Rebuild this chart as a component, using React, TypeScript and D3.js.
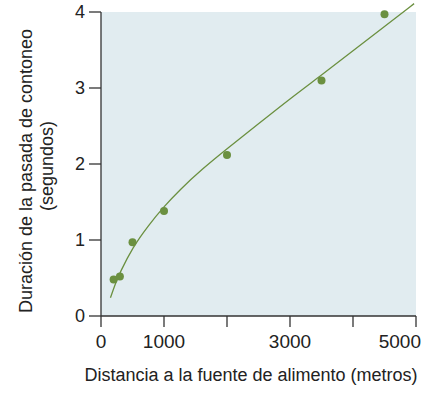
import React from "react";
import * as d3 from "d3";

const distances = [200, 300, 500, 1000, 2000, 3500, 4500];
const durations = [0.48, 0.52, 0.97, 1.38, 2.12, 3.1, 3.97];

const curveX = [150, 225, 300, 500, 750, 1000, 1250, 1600, 2000, 2500, 3000, 3500, 4000, 4500, 4970];
const curveY = [0.24, 0.42, 0.57, 0.9, 1.19, 1.44, 1.66, 1.93, 2.2, 2.53, 2.86, 3.17, 3.49, 3.81, 4.11];

const xTicks = [0, 1000, 2000, 3000, 4000, 5000];
const xTickLabels = ["0", "1000", "", "3000", "", "5000"];
const yTicks = [0, 1, 2, 3, 4];

const xTitle = "Distancia a la fuente de alimento (metros)";
const yTitle1 = "Duración de la pasada de contoneo";
const yTitle2 = "(segundos)";

export default function App() {
  const W = 433, H = 393;
  const x = d3.scaleLinear().domain([0, 5000]).range([101, 416]);
  const y = d3.scaleLinear().domain([0, 4]).range([316, 12]);
  const font = "'Liberation Sans', Arial, Helvetica, sans-serif";
  const green = "#6b9040";
  const axisColor = "#333";

  const line = d3
    .line<number>()
    .x((_, i) => x(curveX[i]))
    .y((d) => y(d))
    .curve(d3.curveBasis);

  return (
    <svg width={W} height={H} style={{ position: "absolute", left: 0, top: 0 }} fontFamily={font}>
      <rect x={x(0)} y={y(4)} width={x(5000) - x(0)} height={y(0) - y(4)} fill="#e1ecf0" />
      <path d={line(curveY) || ""} fill="none" stroke={green} strokeWidth={1.3} />
      {distances.map((d, i) => (
        <circle key={i} cx={x(d)} cy={y(durations[i])} r={4} fill={green} />
      ))}
      {/* y axis */}
      <line x1={x(0)} x2={x(0)} y1={y(4)} y2={y(0)} stroke={axisColor} strokeWidth={1.3} />
      {yTicks.map((t) => (
        <g key={t}>
          <line x1={x(0) - 12} x2={x(0)} y1={y(t)} y2={y(t)} stroke={axisColor} strokeWidth={1.3} />
          <text x={85} y={y(t)} dy="0.35em" textAnchor="end" fontSize={18} fill="#222">
            {t}
          </text>
        </g>
      ))}
      {/* x axis */}
      <line x1={x(0)} x2={x(5000)} y1={y(0)} y2={y(0)} stroke={axisColor} strokeWidth={1.3} />
      {xTicks.map((t, i) => {
        const last = i === xTicks.length - 1;
        return (
          <g key={t}>
            <line x1={x(t)} x2={x(t)} y1={y(0)} y2={y(0) + 11} stroke={axisColor} strokeWidth={1.3} />
            <text
              x={last ? x(t) + 5 : x(t)}
              y={348}
              textAnchor={last ? "end" : "middle"}
              fontSize={19}
              fill="#222"
            >
              {xTickLabels[i]}
            </text>
          </g>
        );
      })}
      <text x={251} y={381} textAnchor="middle" fontSize={18} fill="#222">
        {xTitle}
      </text>
      <text transform={`translate(32,171) rotate(-90)`} textAnchor="middle" fontSize={18} fill="#222">
        {yTitle1}
      </text>
      <text transform={`translate(53,166) rotate(-90)`} textAnchor="middle" fontSize={18} fill="#222">
        {yTitle2}
      </text>
    </svg>
  );
}
